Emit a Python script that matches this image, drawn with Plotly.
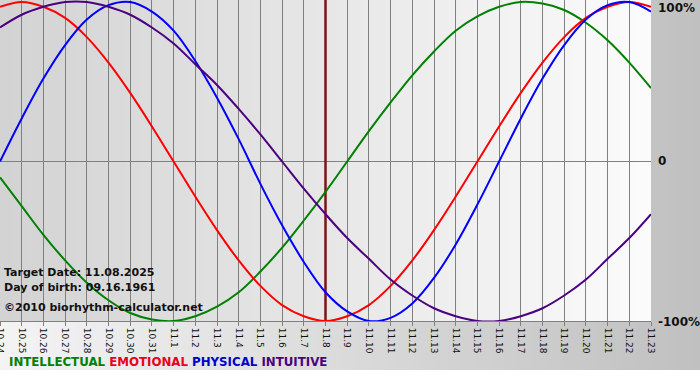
import plotly.graph_objects as go

# ---------------- data ----------------
dates = ["10.24", "10.25", "10.26", "10.27", "10.28", "10.29", "10.30", "10.31",
         "11.1", "11.2", "11.3", "11.4", "11.5", "11.6", "11.7", "11.8", "11.9",
         "11.10", "11.11", "11.12", "11.13", "11.14", "11.15", "11.16", "11.17",
         "11.18", "11.19", "11.20", "11.21", "11.22", "11.23"]

physical = [0.00, 0.27, 0.52, 0.73, 0.89, 0.98, 1.00, 0.94, 0.82, 0.63, 0.40,
            0.14, -0.14, -0.40, -0.63, -0.82, -0.94, -1.00, -0.98, -0.89, -0.73,
            -0.52, -0.27, 0.00, 0.27, 0.52, 0.73, 0.89, 0.98, 1.00, 0.94]

emotional = [0.97, 1.00, 0.97, 0.90, 0.78, 0.62, 0.43, 0.22, 0.00, -0.22, -0.43,
             -0.62, -0.78, -0.90, -0.97, -1.00, -0.97, -0.90, -0.78, -0.62, -0.43,
             -0.22, 0.00, 0.22, 0.43, 0.62, 0.78, 0.90, 0.97, 1.00, 0.97]

intellectual = [-0.10, -0.28, -0.46, -0.62, -0.76, -0.87, -0.95, -0.99, -1.00,
                -0.97, -0.91, -0.82, -0.69, -0.54, -0.37, -0.19, 0.00, 0.19, 0.37,
                0.54, 0.69, 0.82, 0.91, 0.97, 1.00, 0.99, 0.95, 0.87, 0.76, 0.62,
                0.46]

intuitive = [0.84, 0.92, 0.97, 1.00, 1.00, 0.97, 0.92, 0.84, 0.74, 0.61, 0.48,
             0.33, 0.17, 0.00, -0.17, -0.33, -0.48, -0.61, -0.74, -0.84, -0.92,
             -0.97, -1.00, -1.00, -0.97, -0.92, -0.84, -0.74, -0.61, -0.48, -0.33]

target_date = "11.8"
info_lines = ["Target Date: 11.08.2025", "Day of birth: 09.16.1961",
              "\u00a92010 biorhythm-calculator.net"]
y_labels = ["100%", "0", "-100%"]

series = [
    ("INTELLECTUAL", intellectual, "#008000"),
    ("EMOTIONAL", emotional, "#ff0000"),
    ("PHYSICAL", physical, "#0000ff"),
    ("INTUITIVE", intuitive, "#4b0082"),
]
legend_colors = {"INTELLECTUAL": "#008000", "EMOTIONAL": "#e8001c",
                 "PHYSICAL": "#0000cc", "INTUITIVE": "#4b0082"}

# ---------------- figure ----------------
W, H = 700, 380
ML, MR, MT, MB = 0, 49, 0, 59
PW, PH = W - ML - MR, H - MT - MB
xs = list(range(len(dates)))

fig = go.Figure()
# target date line (drawn first so the curves pass over it)
tx = dates.index(target_date)
fig.add_trace(go.Scatter(x=[tx, tx], y=[-1, 1.0125], mode="lines",
                         line=dict(color="#7a1515", width=2.5), hoverinfo="skip",
                         name="target"))
for name, vals, color in series:
    fig.add_trace(go.Scatter(x=xs, y=vals, mode="lines", name=name,
                             line=dict(color=color, width=2, shape="spline", smoothing=1.0),
                             hoverinfo="skip"))

shapes = []
# outer (paper) gradient: light at left -> gray at right
N_OUT = 100
bottom_px = 370
y_out0 = -(bottom_px - (MT + PH)) / PH
for i in range(N_OUT):
    f = i / (N_OUT - 1)
    c = round(244 + (192 - 244) * f)
    x0 = (i / N_OUT) * W / PW
    x1 = ((i + 1) / N_OUT) * W / PW + 0.002
    shapes.append(dict(type="rect", xref="paper", yref="paper", x0=x0, x1=x1,
                       y0=y_out0, y1=1, fillcolor=f"rgb({c},{c},{c})",
                       line=dict(width=0), layer="below"))
# plot-area gradient: gray at left -> near white at right
N_IN = 93
for i in range(N_IN):
    f = i / (N_IN - 1)
    c = round(211 + (251 - 211) * f)
    x0 = i / N_IN
    x1 = min(1.0, (i + 1) / N_IN + 0.002)
    shapes.append(dict(type="rect", xref="paper", yref="paper", x0=x0, x1=x1,
                       y0=0, y1=1, fillcolor=f"rgb({c},{c},{c})",
                       line=dict(width=0), layer="below"))

annotations = []
for i, t in enumerate(info_lines):
    ypx = [272, 287, 307][i]
    annotations.append(dict(text=t, xref="paper", yref="paper",
                            x=2 / PW, y=1 - ypx / PH, xanchor="left", yanchor="middle",
                            showarrow=False,
                            font=dict(family="DejaVu Sans", size=11, color="#111111",
                                      weight="bold")))
for lab, ypx in zip(y_labels, [8, 161, 322]):
    annotations.append(dict(text=lab, xref="paper", yref="paper",
                            x=(PW + 5) / PW, y=1 - ypx / PH, xanchor="left",
                            yanchor="middle", showarrow=False,
                            font=dict(family="DejaVu Sans", size=12, color="#111111",
                                      weight="bold")))
legend_html = " ".join(f"<span style='color:{legend_colors[n]}'>{n}</span>"
                       for n, _, _ in series)
annotations.append(dict(text=legend_html, xref="paper", yref="paper",
                        x=7 / PW, y=1 - 362 / PH, xanchor="left", yanchor="middle",
                        showarrow=False,
                        font=dict(family="DejaVu Sans", size=11.8, weight="bold")))

fig.update_layout(
    width=W, height=H,
    margin=dict(l=ML, r=MR, t=MT, b=MB, pad=0, autoexpand=False),
    paper_bgcolor="white", plot_bgcolor="rgba(0,0,0,0)",
    showlegend=False,
    shapes=shapes, annotations=annotations,
    xaxis=dict(range=[0, len(dates) - 1], tickmode="array", tickvals=xs,
               ticktext=dates, tickangle=90, showgrid=True, gridcolor="#808080",
               gridwidth=1, ticks="outside", ticklen=4, tickcolor="#808080",
               showline=True, linecolor="#808080", linewidth=1, zeroline=False,
               tickfont=dict(family="DejaVu Sans", size=9, color="#111111"),
               automargin=False, ticklabeloverflow="allow", fixedrange=True),
    yaxis=dict(range=[-1, 1.0125], showticklabels=False, showgrid=False,
               zeroline=True, zerolinecolor="#808080", zerolinewidth=1,
               ticks="", automargin=False, fixedrange=True),
)

fig.write_html("out.html", config={"displayModeBar": False, "staticPlot": True},
               post_script="document.body.style.margin='0';document.body.style.padding='0';")
